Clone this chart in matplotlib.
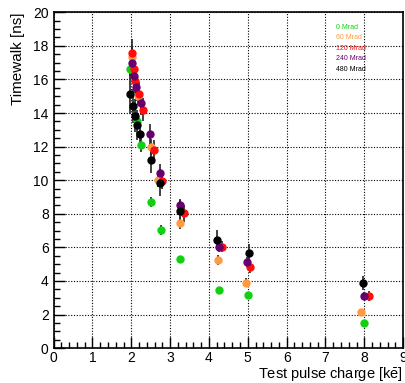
import numpy as np
import matplotlib
matplotlib.use("Agg")
import matplotlib.pyplot as plt
from matplotlib.ticker import MultipleLocator

plt.rcParams['font.family'] = 'Liberation Sans'
plt.rcParams['mathtext.fontset'] = 'custom'
plt.rcParams['mathtext.rm'] = 'Liberation Sans'

# === DATA ===
labels = ["0 Mrad", "60 Mrad", "120 Mrad", "240 Mrad", "480 Mrad"]
colors = ["#11d011", "#ff9a40", "#ff0d0d", "#66006e", "#000000"]

x_0 = [1.97, 2.15, 2.26, 2.50, 2.76, 3.25, 4.25, 5.00, 7.98]
y_0 = [16.6, 13.55, 12.1, 8.7, 7.06, 5.3, 3.45, 3.15, 1.49]
e_0 = [0.4, 0.4, 0.4, 0.3, 0.3, 0.2, 0.15, 0.15, 0.15]

x_60 = [2.01, 2.18, 2.51, 2.69, 3.25, 4.24, 4.95, 7.92]
y_60 = [17.35, 15.0, 11.98, 10.0, 7.44, 5.26, 3.9, 2.14]
e_60 = [0.6, 0.5, 0.5, 0.4, 0.35, 0.3, 0.25, 0.2]

x_120 = [2.01, 2.06, 2.10, 2.19, 2.29, 2.58, 2.80, 3.35, 4.34, 5.06, 8.12]
y_120 = [17.6, 16.6, 15.9, 15.15, 14.2, 11.82, 9.98, 8.03, 6.05, 4.84, 3.11]
e_120 = [0.8, 0.7, 0.7, 0.7, 0.7, 0.6, 0.5, 0.5, 0.35, 0.35, 0.3]

x_240 = [2.02, 2.07, 2.13, 2.24, 2.47, 2.75, 3.25, 4.26, 4.99, 8.00]
y_240 = [16.96, 16.2, 15.54, 14.6, 12.74, 10.45, 8.51, 6.05, 5.12, 3.11]
e_240 = [0.8, 0.8, 0.8, 0.7, 0.6, 0.5, 0.4, 0.3, 0.3, 0.25]

x_480 = [1.97, 2.05, 2.10, 2.16, 2.22, 2.50, 2.74, 3.25, 4.22, 5.02, 7.96]
y_480 = [15.14, 14.42, 13.85, 13.27, 12.76, 11.2, 9.84, 8.15, 6.45, 5.69, 3.87]
e_480 = [1.2, 1.0, 1.0, 0.9, 0.9, 0.8, 0.8, 0.7, 0.6, 0.5, 0.4]

series = [(x_0, y_0, e_0), (x_60, y_60, e_60), (x_120, y_120, e_120),
          (x_240, y_240, e_240), (x_480, y_480, e_480)]

# === PLOT ===
fig = plt.figure(figsize=(4.06, 3.83), dpi=100)
ax = fig.add_axes([0.132, 0.091, 0.861, 0.877])

for (xs, ys, es), c in zip(series, colors):
    ax.errorbar(xs, ys, yerr=es, fmt='o', color=c, ms=5, mec=c,
                ecolor='#222222', elinewidth=1.2, capsize=0, zorder=3)

ax.set_xlim(0, 9)
ax.set_ylim(0, 20)
ax.xaxis.set_major_locator(MultipleLocator(1))
ax.xaxis.set_minor_locator(MultipleLocator(0.2))
ax.yaxis.set_major_locator(MultipleLocator(2))
ax.yaxis.set_minor_locator(MultipleLocator(0.5))
ax.tick_params(which='both', direction='in', top=False, right=False, labelsize=10, width=1)
ax.tick_params(which='major', length=8)
ax.tick_params(which='minor', length=4)
ax.tick_params(axis='x', pad=2)
ax.grid(True, which='major', color='black', linestyle=(0, (1, 1.5)), linewidth=0.8)
for s in ax.spines.values():
    s.set_linewidth(1.2)

ax.set_ylabel("Timewalk [ns]", fontsize=11, loc='top', labelpad=6)
ax.set_xlabel(r"Test pulse charge [k$\bar{\mathrm{e}}$]", fontsize=10.5, loc='right', labelpad=0)

for i, (lab, c) in enumerate(zip(labels, colors)):
    ax.text(0.808, 0.955 - i * 0.031, lab, color=c, fontsize=5,
            transform=ax.transAxes, va='center', ha='left')

plt.savefig("out.png", dpi=100)
